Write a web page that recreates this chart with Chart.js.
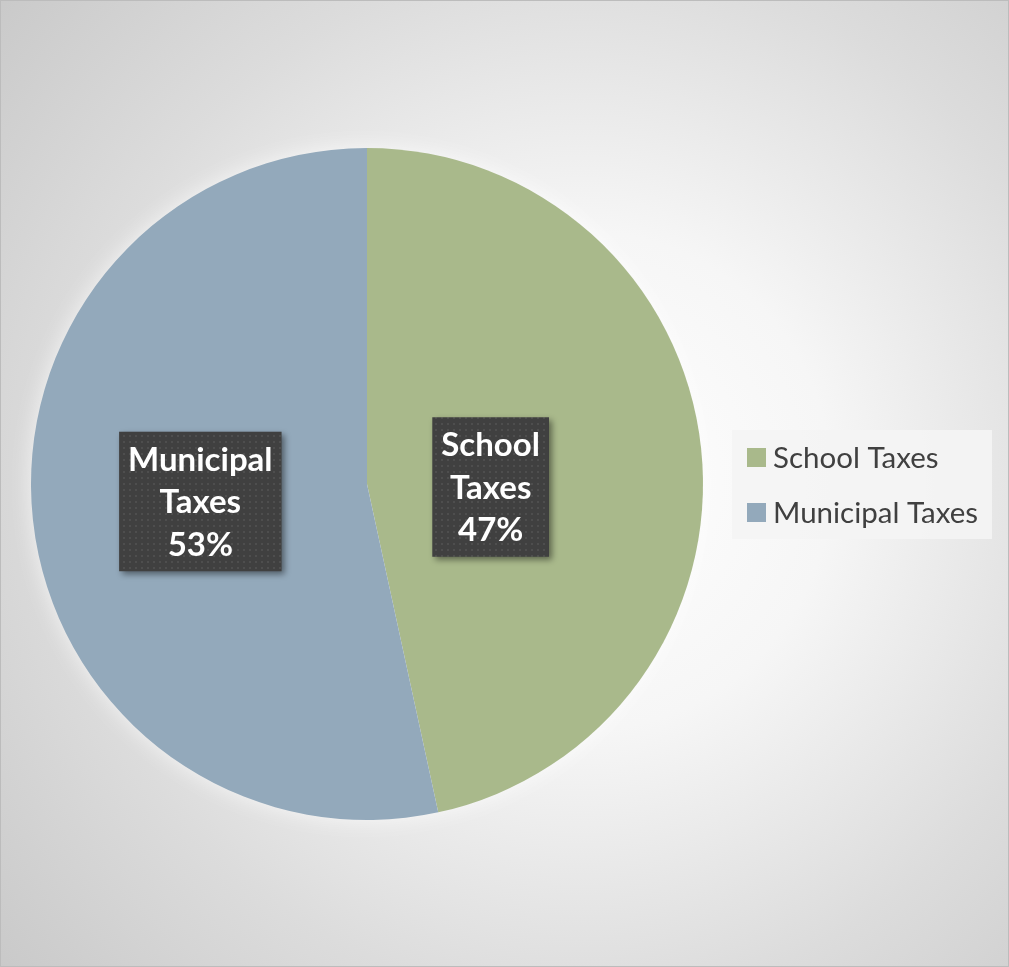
<!DOCTYPE html>
<html>
<head>
<meta charset="utf-8">
<script src="https://cdn.jsdelivr.net/npm/chart.js@4"></script>
<style>
  html, body { margin: 0; padding: 0; }
  #wrap {
    position: relative;
    width: 1007px;
    height: 965px;
    border: 1px solid #bcbcbc;
    background: radial-gradient(circle at 580px 480px, #ffffff 0px, #f6f6f6 250px, #dcdcdc 520px, #c6c6c6 800px);
  }
</style>
</head>
<body>
<div id="wrap"><canvas id="taxChart"></canvas></div>
<script>
// Anteile der Steuern
const categories = ['School Taxes', 'Municipal Taxes'];
const shares = [46.6, 53.4];
const sliceColors = ['#a9b98b', '#93a9bb'];

// Lage der Beschriftungskaesten relativ zum Mittelpunkt (Anteile des Radius)
const labelOffsets = [[0.368, 0.009], [-0.496, 0.052]];

function dotPattern(ctx) {
    const p = document.createElement('canvas');
    p.width = 6; p.height = 6;
    const pc = p.getContext('2d');
    pc.fillStyle = '#404040';
    pc.fillRect(0, 0, 6, 6);
    pc.fillStyle = '#4e4e4e';
    pc.fillRect(2, 2, 2, 2);
    return ctx.createPattern(p, 'repeat');
}

// weisser Schein hinter dem Kreis
const glow = {
    id: 'glow',
    beforeDatasetsDraw(chart) {
        const arc = chart.getDatasetMeta(0).data[0];
        const ctx = chart.ctx;
        ctx.save();
        ctx.shadowColor = 'rgba(255,255,255,0.8)';
        ctx.shadowBlur = 25;
        ctx.fillStyle = '#ffffff';
        ctx.beginPath();
        ctx.arc(arc.x, arc.y, arc.outerRadius - 2, 0, Math.PI * 2);
        ctx.fill();
        ctx.restore();
    }
};

// Datenbeschriftungen in dunklen Kaesten
const boxLabels = {
    id: 'boxLabels',
    afterDatasetsDraw(chart) {
        const ctx = chart.ctx;
        const meta = chart.getDatasetMeta(0);
        const total = shares.reduce((a, b) => a + b, 0);
        const pattern = dotPattern(ctx);
        meta.data.forEach((arc, i) => {
            const cx = arc.x + labelOffsets[i][0] * arc.outerRadius;
            const cy = arc.y + labelOffsets[i][1] * arc.outerRadius;
            const words = categories[i].split(' ');
            const lines = [...words, Math.round(shares[i] / total * 100) + '%'];
            ctx.save();
            ctx.font = 'bold 33px Lato';
            const w = Math.max(...lines.map(l => ctx.measureText(l).width)) + 18;
            const lh = 42.5;
            const h = lines.length * lh + 12;
            ctx.shadowColor = 'rgba(0,0,0,0.45)';
            ctx.shadowBlur = 6;
            ctx.shadowOffsetX = 3;
            ctx.shadowOffsetY = 3;
            ctx.fillStyle = pattern;
            ctx.fillRect(cx - w / 2, cy - h / 2, w, h);
            ctx.shadowColor = 'transparent';
            ctx.fillStyle = '#ffffff';
            ctx.textAlign = 'center';
            ctx.textBaseline = 'middle';
            lines.forEach((l, k) => {
                ctx.fillText(l, cx, cy - h / 2 + 6 + lh * (k + 0.5) + 1);
            });
            ctx.restore();
        });
    }
};

// Legende rechts
const sideLegend = {
    id: 'sideLegend',
    afterDraw(chart) {
        const ctx = chart.ctx;
        const area = chart.chartArea;
        const left = area.right + 29;
        const top = 429;
        ctx.save();
        ctx.fillStyle = 'rgba(244,244,244,0.9)';
        ctx.fillRect(left, top, 260, 109);
        ctx.font = '29.5px Lato';
        ctx.textBaseline = 'middle';
        categories.forEach((c, i) => {
            const y = top + 27 + i * 55;
            ctx.fillStyle = sliceColors[i];
            ctx.fillRect(left + 15, y - 9, 19, 19);
            ctx.fillStyle = '#404040';
            ctx.fillText(c, left + 41, y + 1);
        });
        ctx.restore();
    }
};

new Chart(document.getElementById('taxChart'), {
    type: 'pie',
    data: {
        labels: categories,
        datasets: [{
            data: shares,
            backgroundColor: sliceColors,
            borderWidth: 0
        }]
    },
    options: {
        responsive: true,
        maintainAspectRatio: false,
        animation: false,
        layout: { padding: { left: 30, top: 147, right: 305, bottom: 146 } },
        plugins: {
            legend: { display: false },
            tooltip: { enabled: false }
        }
    },
    plugins: [glow, boxLabels, sideLegend]
});
</script>
</body>
</html>
